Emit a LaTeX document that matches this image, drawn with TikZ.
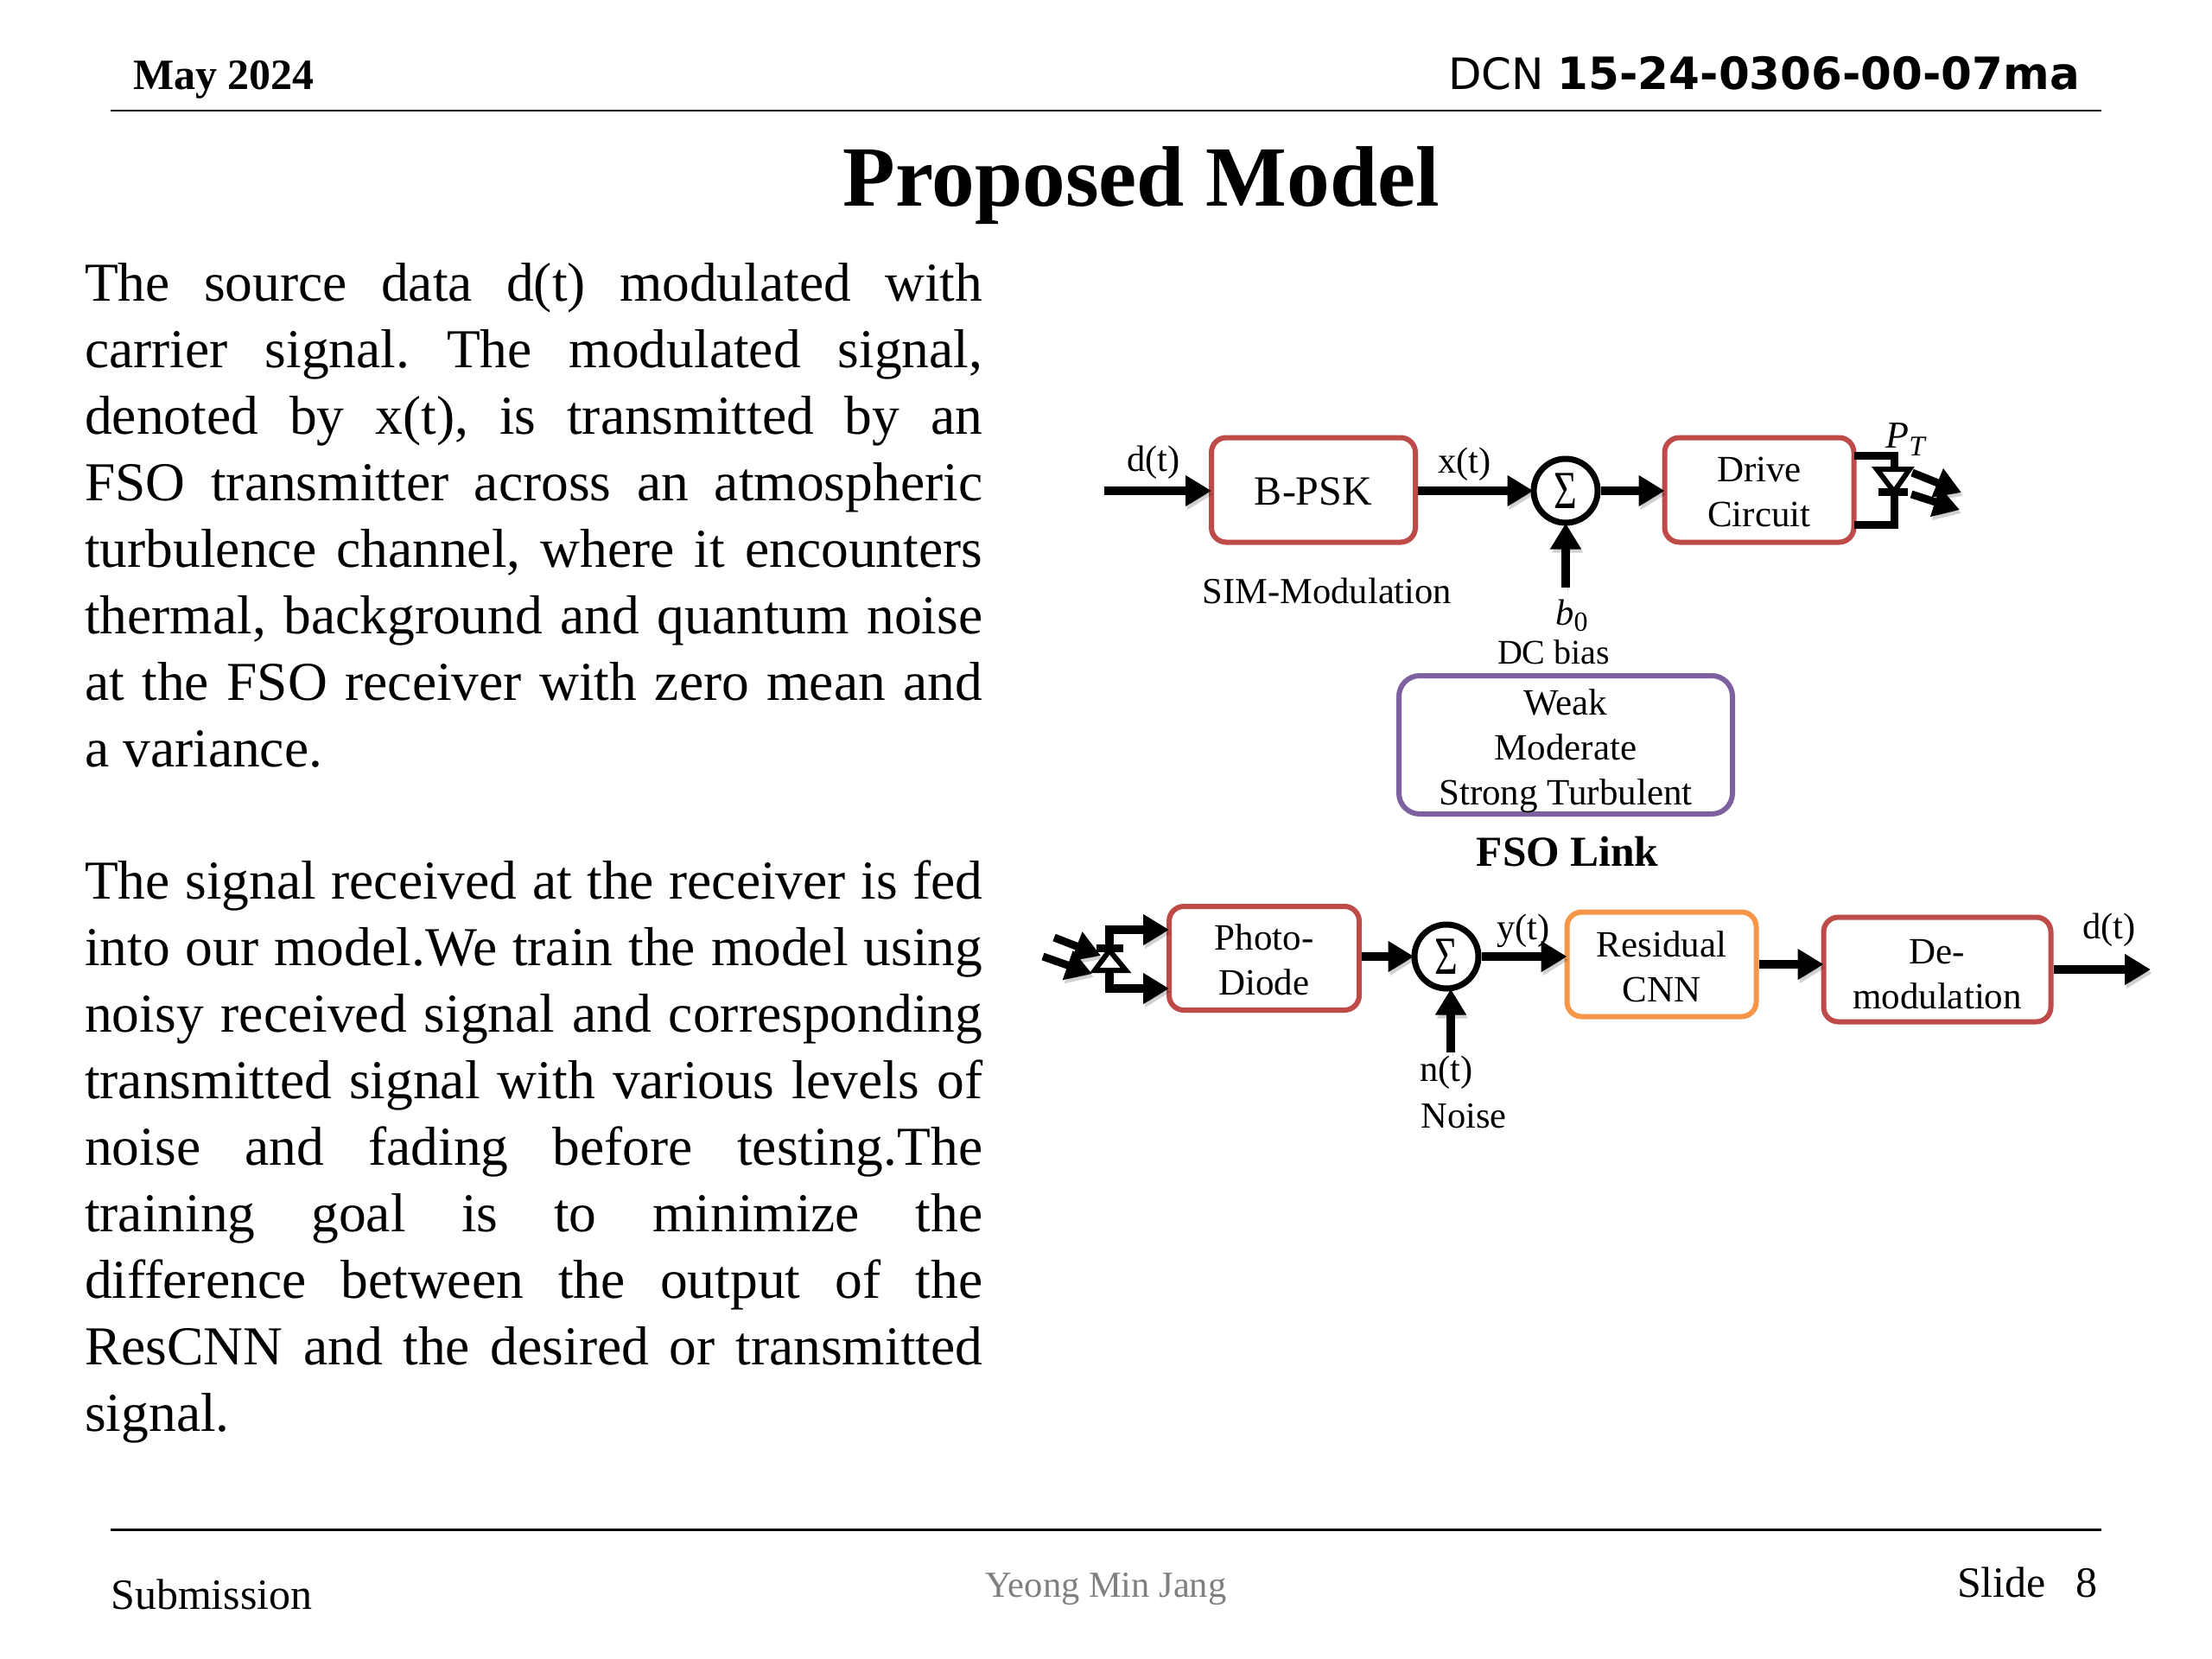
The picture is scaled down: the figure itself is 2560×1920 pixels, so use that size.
\documentclass[tikz,border=0pt]{standalone}
\usepackage{fontspec}
\usepackage{graphicx}
\setmainfont{Liberation Serif}
\newfontfamily\dvs{DejaVu Sans}
\usetikzlibrary{arrows.meta}
\definecolor{boxred}{HTML}{BE4B48}
\definecolor{boxorange}{HTML}{F79646}
\definecolor{boxpurple}{HTML}{7D60A0}
\newcommand{\fs}[1]{\fontsize{#1pt}{#1pt}\selectfont}
\newcommand{\jl}[1]{\hbox to 1039pt{#1}}
\newcommand{\bigsum}{\scalebox{1}[1.35]{Σ}}
\tikzset{
  x=1pt,y=-1pt,
  lbl/.style={inner sep=0pt,font=\fs{42.5},align=center},
  redbox/.style={draw=boxred,line width=6pt,rounded corners=17pt,inner sep=0pt,font=\fs{43},align=center,fill=white},
  orbox/.style={redbox,draw=boxorange},
  pubox/.style={redbox,draw=boxpurple,rounded corners=24pt},
  sumc/.style={circle,draw=black,line width=7pt,minimum size=74pt,inner sep=0pt,font=\fs{46},fill=white},
  shad/.style={preaction={draw=black,opacity=.18,transform canvas={xshift=2pt,yshift=-4pt}}},
  conn/.style={shad,line width=10pt,shorten >=-3pt,-{Triangle[length=30pt,width=34pt]}},
  wire/.style={line width=9pt},
  lightarrow/.style={shad,line width=9pt,-{Triangle[length=30pt,width=34pt]}},
  rule/.style={line width=2.5pt},
  para/.style={anchor=north west,inner sep=0pt,font=\fs{63.5},align=left},
}
\begin{document}
\begin{tikzpicture}
\useasboundingbox (0,0) rectangle (2560,1920);
\fill[white] (0,0) rectangle (2560,1920);
% header
\coordinate (hl) at (128,128); \coordinate (hr) at (2432,128);
\draw[rule] (hl) -- (hr);
\node[anchor=base west,inner sep=0pt,font=\fs{50}\bfseries] (date) at (154,103) {May 2024};
\node[anchor=base east,inner sep=0pt,font=\fs{50}] (dcn) at (2407,103) {{\dvs DCN }{\dvs\bfseries\fs{51.5}15-24-0306-00-07ma}};
\node[anchor=base,inner sep=0pt,font=\fs{99.3}\bfseries] (title) at (1321,238) {Proposed Model};
% body
\node[para] (p1) at (98,304) {\vbox{\baselineskip=77pt\frenchspacing
\jl{The source data d(t) modulated with}
\jl{carrier signal. The modulated signal,}
\jl{denoted by x(t), is transmitted by an}
\jl{FSO transmitter across an atmospheric}
\jl{turbulence channel, where it encounters}
\jl{thermal, background and quantum noise}
\jl{at the FSO receiver with zero mean and}
\hbox{a variance.}}};
\node[para] (p2) at (98,995.5) {\vbox{\baselineskip=77pt\frenchspacing
\jl{The signal received at the receiver is fed}
\jl{into our model.We train the model using}
\jl{noisy received signal and corresponding}
\jl{transmitted signal with various levels of}
\jl{noise and fading before testing.The}
\jl{training goal is to minimize the}
\jl{difference between the output of the}
\jl{ResCNN and the desired or transmitted}
\hbox{signal.}}};
% transmitter
\node[redbox,minimum width=236pt,minimum height=121pt,font=\fs{48}] (bpsk) at (1520,567) {\rule{0pt}{36pt}B-PSK};
\node[sumc] (s1) at (1812,568) {\bigsum};
\node[redbox,minimum width=219pt,minimum height=121pt] (drive) at (2036,567) {\rule{0pt}{33pt}Drive\\[9pt]Circuit};
\coordinate (din) at (1278,568);
\coordinate (b0end) at (1812,680);
\draw[conn] (din) -- (bpsk.west |- din);
\draw[conn] (bpsk.east |- s1.west) -- (s1.west);
\draw[conn] (s1.east) -- (drive.west |- s1.east);
\draw[conn] (b0end) -- (s1.south);
\node[lbl] (ld) at (1335,535) {d(t)};
\node[lbl] (lx) at (1695,537) {x(t)};
\node[lbl] (lsim) at (1536,684) {SIM-Modulation};
\node[lbl] (lb0) at (1819,712) {\textit{b}\fs{32}\raisebox{-7pt}{0}};
\node[lbl,font=\fs{40}] (ldc) at (1798,755) {DC bias};
\node[lbl,font=\fs{44}] (lpt) at (2206,509) {\textit{P}\raisebox{-9pt}{\fs{33}\textit{T}}};
% TX diode
\coordinate (ta) at (2146,527); \coordinate (tb) at (2192,527); \coordinate (tc) at (2192,545);
\coordinate (td) at (2192,569); \coordinate (te) at (2192,607); \coordinate (tf) at (2146,607);
\coordinate (t1) at (2172,543); \coordinate (t2) at (2210,543);
\coordinate (b1) at (2174,569); \coordinate (b2) at (2208,569);
\draw[wire,shad,line join=miter] (ta) -- (tb) -- (tc);
\draw[wire,shad,line join=miter] (td) -- (te) -- (tf);
\draw[line width=6pt,fill=white] (t1) -- (t2) -- (td) -- cycle;
\draw[wire] (b1) -- (b2);
\coordinate (e1a) at (2213,547); \coordinate (e1b) at (2270,570);
\coordinate (e2a) at (2212,572); \coordinate (e2b) at (2268,590);
\draw[lightarrow] (e1a) -- (e1b);
\draw[lightarrow] (e2a) -- (e2b);
% turbulence
\node[pubox,minimum width=386pt,minimum height=160pt] (turb) at (1812,862) {\rule{0pt}{44pt}Weak\\[9pt]Moderate\\[9pt]Strong Turbulent};
\node[lbl,font=\fs{49.5}\bfseries] (fso) at (1814,986) {FSO Link};
% receiver
\node[redbox,minimum width=220pt,minimum height=120pt] (photo) at (1463,1109) {\rule{0pt}{33pt}Photo-\\[9pt]Diode};
\node[sumc] (s2) at (1674,1107) {\bigsum};
\node[orbox,minimum width=219pt,minimum height=121pt] (res) at (1923,1116) {\rule{0pt}{36pt}Residual\\[9pt]CNN};
\node[redbox,minimum width=263pt,minimum height=121pt] (demod) at (2242,1122) {\rule{0pt}{40pt}De-\\[9pt]modulation};
\coordinate (ninp) at (1679,1218);
\coordinate (dout) at (2486,1122);
\draw[conn] (photo.east |- s2.west) -- (s2.west);
\draw[conn] (s2.east) -- (res.west |- s2.east);
\draw[conn] (res.east) -- (demod.west |- res.east);
\draw[conn] (demod.east) -- (dout);
\draw[conn] (ninp) -- (ninp |- s2.south);
\node[lbl] (ly) at (1763,1077) {y(t)};
\node[lbl] (ld2) at (2441,1076) {d(t)};
\node[lbl] (ln) at (1674,1241) {n(t)};
\node[lbl] (lnoise) at (1694,1292) {Noise};
% RX diode
\coordinate (ra) at (1284,1100); \coordinate (rb) at (1284,1076);
\coordinate (rd) at (1284,1122); \coordinate (re) at (1284,1144);
\coordinate (r1) at (1267,1123); \coordinate (r2) at (1303,1123);
\coordinate (r3) at (1269,1097); \coordinate (r4) at (1300,1097);
\draw[conn,line join=miter] (ra) -- (rb) -- (photo.west |- rb);
\draw[conn,line join=miter] (rd) -- (re) -- (photo.west |- re);
\draw[line width=6pt,fill=white] (r1) -- (r2) -- (ra) -- cycle;
\draw[wire] (r3) -- (r4);
\coordinate (i1a) at (1220,1085); \coordinate (i1b) at (1274,1106);
\coordinate (i2a) at (1207,1107); \coordinate (i2b) at (1264,1127);
\draw[lightarrow] (i1a) -- (i1b);
\draw[lightarrow] (i2a) -- (i2b);
% footer
\coordinate (fl) at (128,1770.5); \coordinate (fr) at (2432,1770.5);
\draw[rule] (fl) -- (fr);
\node[anchor=base west,inner sep=0pt,font=\fs{50}] (sub) at (128,1862) {Submission};
\node[anchor=base,inner sep=0pt,font=\fs{42.5},text=gray] (auth) at (1280,1848) {Yeong Min Jang};
\node[anchor=base east,inner sep=0pt,font=\fs{50}] (slide) at (2428,1848) {Slide\hspace{35pt}8};
\end{tikzpicture}
\end{document}
